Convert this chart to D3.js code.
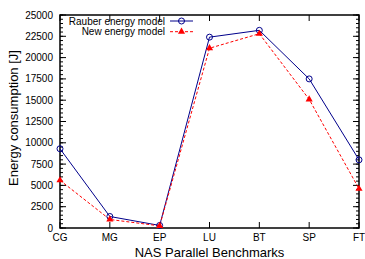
<!DOCTYPE html>
<html>
<head>
<meta charset="utf-8">
<script src="https://cdn.jsdelivr.net/npm/d3@7"></script>
<style>
  body { margin: 0; background: #fff; }
  text { font-family: "Liberation Sans", Arial, sans-serif; }
</style>
</head>
<body>
<script>
  var benchmarks = ["CG", "MG", "EP", "LU", "BT", "SP", "FT"];
  var rauberValues = [9300, 1350, 300, 22400, 23200, 17500, 8000];
  var newValues = [5600, 1000, 250, 21100, 22800, 15100, 4600];
  var yTicks = [0, 2500, 5000, 7500, 10000, 12500, 15000, 17500, 20000, 22500, 25000];

  var width = 365,
      height = 259,
      margin = {top: 15, right: 6, bottom: 31, left: 60};

  var svg = d3.select("body")
    .append("svg")
      .attr("width", width)
      .attr("height", height);

  var x = d3.scalePoint()
    .domain(benchmarks)
    .range([margin.left, width - margin.right]);

  var y = d3.scaleLinear()
    .domain([0, 25000])
    .range([height - margin.bottom, margin.top]);

  var x0 = margin.left, x1 = width - margin.right,
      y0 = height - margin.bottom, y1 = margin.top;

  // minor ticks on y, both sides
  var minor = d3.range(0, 25001, 500);
  svg.selectAll(".minor")
    .data(minor)
    .enter()
    .append("path")
      .attr("d", function(d) {
        return "M" + x0 + "," + y(d) + "h3M" + x1 + "," + y(d) + "h-3";
      })
      .attr("stroke", "#000")
      .attr("stroke-width", 1);

  // major ticks mirrored
  svg.selectAll(".ymaj")
    .data(yTicks)
    .enter()
    .append("path")
      .attr("d", function(d) {
        return "M" + x0 + "," + y(d) + "h6M" + x1 + "," + y(d) + "h-6";
      })
      .attr("stroke", "#000");

  svg.selectAll(".xmaj")
    .data(benchmarks)
    .enter()
    .append("path")
      .attr("d", function(d) {
        return "M" + x(d) + "," + y0 + "v-6M" + x(d) + "," + y1 + "v6";
      })
      .attr("stroke", "#000");

  svg.append("rect")
    .attr("x", x0)
    .attr("y", y1)
    .attr("width", x1 - x0)
    .attr("height", y0 - y1)
    .attr("fill", "none")
    .attr("stroke", "#000")
    .attr("stroke-width", 1.5);

  svg.selectAll(".ylab")
    .data(yTicks)
    .enter()
    .append("text")
      .attr("x", x0 - 7)
      .attr("y", function(d) { return y(d) + 3.5; })
      .attr("text-anchor", "end")
      .attr("font-size", 10)
      .text(function(d) { return d; });

  svg.selectAll(".xlab")
    .data(benchmarks)
    .enter()
    .append("text")
      .attr("x", function(d) { return x(d); })
      .attr("y", y0 + 12.5)
      .attr("text-anchor", "middle")
      .attr("font-size", 10)
      .text(function(d) { return d; });

  svg.append("text")
    .attr("x", (x0 + x1) / 2)
    .attr("y", 256.5)
    .attr("text-anchor", "middle")
    .attr("font-size", 13)
    .text("NAS Parallel Benchmarks");

  svg.append("text")
    .attr("transform", "translate(17.5,118) rotate(-90)")
    .attr("text-anchor", "middle")
    .attr("font-size", 13)
    .text("Energy consumption [J]");

  var line = d3.line()
    .x(function(d, i) { return x(benchmarks[i]); })
    .y(function(d) { return y(d); });

  var blue = "#00008b", red = "#ff0000";

  svg.append("path")
    .datum(rauberValues)
    .attr("d", line)
    .attr("fill", "none")
    .attr("stroke", blue)
    .attr("stroke-width", 1);

  svg.append("path")
    .datum(newValues)
    .attr("d", line)
    .attr("fill", "none")
    .attr("stroke", red)
    .attr("stroke-width", 1)
    .attr("stroke-dasharray", "3,2");

  svg.selectAll(".circ")
    .data(rauberValues)
    .enter()
    .append("circle")
      .attr("cx", function(d, i) { return x(benchmarks[i]); })
      .attr("cy", function(d) { return y(d); })
      .attr("r", 3)
      .attr("fill", "none")
      .attr("stroke", blue);

  var tri = d3.symbol().type(d3.symbolTriangle).size(22);
  svg.selectAll(".tri")
    .data(newValues)
    .enter()
    .append("path")
      .attr("d", tri)
      .attr("transform", function(d, i) {
        return "translate(" + x(benchmarks[i]) + "," + y(d) + ")";
      })
      .attr("fill", red);

  // legend
  var legend = [
    {name: "Rauber energy model", color: blue, dash: null, mark: "circle"},
    {name: "New energy model", color: red, dash: "3,2", mark: "tri"}
  ];
  var lg = svg.selectAll(".legend")
    .data(legend)
    .enter()
    .append("g")
      .attr("transform", function(d, i) { return "translate(0," + (21 + i * 10.7) + ")"; });

  lg.append("text")
    .attr("x", 165)
    .attr("y", 3.5)
    .attr("text-anchor", "end")
    .attr("font-size", 10)
    .text(function(d) { return d.name; });

  lg.append("path")
    .attr("d", "M170,0H193")
    .attr("stroke", function(d) { return d.color; })
    .attr("stroke-dasharray", function(d) { return d.dash; });

  lg.filter(function(d) { return d.mark === "circle"; })
    .append("circle")
      .attr("cx", 181.5).attr("cy", 0).attr("r", 3)
      .attr("fill", "none").attr("stroke", blue);

  lg.filter(function(d) { return d.mark === "tri"; })
    .append("path")
      .attr("d", tri)
      .attr("transform", "translate(181.5,0)")
      .attr("fill", red);
</script>
</body>
</html>
